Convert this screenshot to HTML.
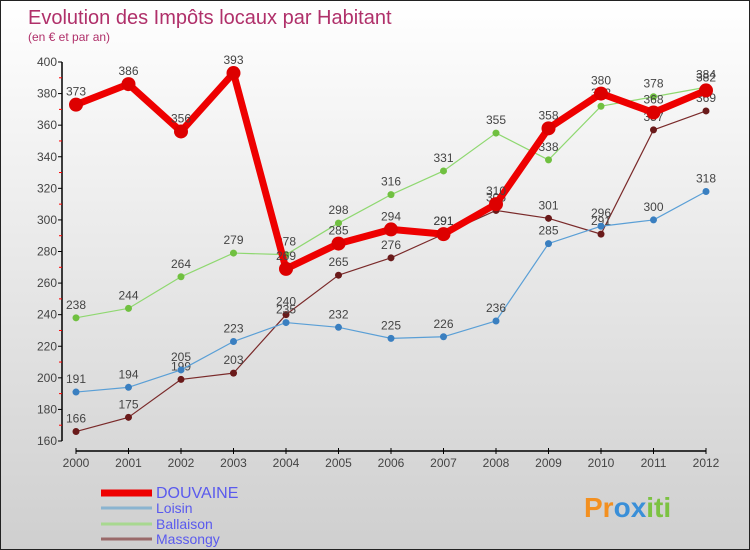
<!DOCTYPE html>
<html><head><meta charset="utf-8"><style>
body{margin:0}
#c{width:750px;height:550px;position:relative;box-sizing:border-box;border:1px solid #222;background:linear-gradient(#ffffff,#cfcfcf);font-family:"Liberation Sans",sans-serif;overflow:hidden}
</style></head><body>
<div id="c">
<svg id="s" width="750" height="550" style="position:absolute;left:0;top:0">
<text x="27" y="23" font-size="20" fill="#b0306a">Evolution des Impôts locaux par Habitant</text>
<text x="27" y="40" font-size="12" fill="#b0306a">(en € et par an)</text>
<g id="axes"></g><g id="series"></g><g id="legend"></g>
<text x="583" y="516" font-size="28" font-weight="bold" fill="#f39020">Pr<tspan fill="#3a8fd8">o</tspan><tspan fill="#3a8fd8">x</tspan><tspan fill="#7cc242">iti</tspan></text>
</svg>
</div>
<script>
const years=[2000,2001,2002,2003,2004,2005,2006,2007,2008,2009,2010,2011,2012];
const yTicks=[160,180,200,220,240,260,280,300,320,340,360,380,400];
const seriesNames=["DOUVAINE","Loisin","Ballaison","Massongy"];
const douvaine=[373,386,356,393,269,285,294,291,310,358,380,368,382];
const loisin=[191,194,205,223,235,232,225,226,236,285,296,300,318];
const ballaison=[238,244,264,279,278,298,316,331,355,338,372,378,384];
const massongy=[166,175,199,203,240,265,276,291,306,301,291,357,369];
const NS="http://www.w3.org/2000/svg";
const X=i=>75+i*52.5;
const Y=v=>440-(v-160)*379/240;
function mk(t,a,p){const e=document.createElementNS(NS,t);for(const k in a)e.setAttribute(k,a[k]);p.appendChild(e);return e;}
const ax=document.getElementById('axes');
let e=mk('line',{x1:61,y1:Y(400),x2:61,y2:Y(160),stroke:'#000','stroke-width':1.5},ax);

e=mk('line',{x1:X(0),y1:450,x2:X(12),y2:450,stroke:'#000','stroke-width':1.5},ax);

yTicks.forEach((v,i)=>{
  mk('line',{x1:57,y1:Y(v),x2:61,y2:Y(v),stroke:'#000'},ax);
  if(i<yTicks.length-1)mk('line',{x1:58,y1:Y(v+10),x2:61,y2:Y(v+10),stroke:'#f00'},ax);
  const t=mk('text',{x:56,y:Y(v)+4,'font-size':12,fill:'#444','text-anchor':'end'},ax);t.textContent=v;
  
});
years.forEach((y,i)=>{
  mk('line',{x1:X(i),y1:447,x2:X(i),y2:453,stroke:'#000'},ax);
  const t=mk('text',{x:X(i),y:466,'font-size':12,fill:'#444','text-anchor':'middle'},ax);t.textContent=y;
  
});
const sg=document.getElementById('series');
const defs=[[massongy,'#7a2a2a','#6a1a1a',1.2,3.5],[loisin,'#5a9fd6','#3a7fc0',1.2,3.5],[ballaison,'#8fd870','#70c040',1.2,3.5],[douvaine,'#ee0000','#dd0000',7,7]];
const names=['line-massongy','line-loisin','line-ballaison','line-douvaine'];
defs.forEach((d,k)=>{
  const g=mk('g',{},sg);
  
  mk('polyline',{points:d[0].map((v,i)=>X(i)+','+Y(v)).join(' '),fill:'none',stroke:d[1],'stroke-width':d[3],'stroke-linejoin':'round'},g);
  d[0].forEach((v,i)=>{
    const c=mk('circle',{cx:X(i),cy:Y(v),r:d[4],fill:d[2]},g);
    
    const t=mk('text',{x:X(i),y:Y(v)-9,'font-size':12,fill:'#444','text-anchor':'middle'},g);t.textContent=v;
    
  });
});
const lg=document.getElementById('legend');
const lc=['#ee0000','#8ab4d0','#a8d890','#9a6a6a'],lw=[7,3,3,3],ly=[492,507,523,538],fs=[16,14,14,14];
seriesNames.forEach((n,i)=>{
  const g=mk('g',{},lg);
  
  mk('line',{x1:100,y1:ly[i],x2:151,y2:ly[i],stroke:lc[i],'stroke-width':lw[i]},g);
  const t=mk('text',{x:155,y:ly[i]+5,'font-size':fs[i],fill:'#5a5aee'},g);t.textContent=n;
});
</script>
</body></html>
